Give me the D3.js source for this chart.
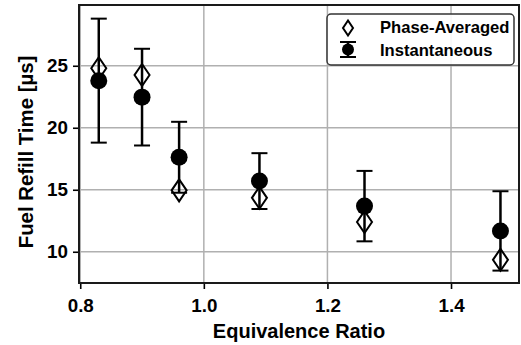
<!DOCTYPE html>
<html>
<head>
<meta charset="utf-8">
<script src="https://cdn.jsdelivr.net/npm/d3@7"></script>
<style>
  body { margin: 0; background: #fff; }
  svg text { font-family: "Liberation Sans", Arial, sans-serif; font-weight: bold; fill: #000; }
</style>
</head>
<body>
<svg id="chart" width="521" height="345"></svg>
<script>
const ratio = [0.83, 0.90, 0.96, 1.09, 1.26, 1.48];
const phaseAvg = [24.8, 24.25, 14.95, 14.35, 12.4, 9.35];
const instMean = [23.8, 22.47, 17.62, 15.7, 13.68, 11.68];
const instErr = [5.0, 3.9, 2.86, 2.25, 2.84, 3.2];
const xTicks = [0.8, 1.0, 1.2, 1.4];
const yTicks = [10, 15, 20, 25];

const L = 79, R = 519, T = 5, B = 283;

const svg = d3.select("#chart");

const x = d3.scaleLinear().domain([0.798, 1.51]).range([L, R]);
const y = d3.scaleLinear().domain([7.48, 29.9]).range([B, T]);

// grid
const grid = svg.append("g").attr("stroke", "#b0b0b0").attr("stroke-width", 1.5);
grid.selectAll("line.gx").data(xTicks).join("line")
  .attr("x1", d => x(d)).attr("x2", d => x(d)).attr("y1", T).attr("y2", B);
grid.selectAll("line.gy").data(yTicks).join("line")
  .attr("x1", L).attr("x2", R).attr("y1", d => y(d)).attr("y2", d => y(d));

// axes
const xAxis = svg.append("g").attr("transform", "translate(0," + B + ")")
  .call(d3.axisBottom(x).tickValues(xTicks).tickFormat(d3.format(".1f")).tickSize(6).tickPadding(5));
const yAxis = svg.append("g").attr("transform", "translate(" + L + ",0)")
  .call(d3.axisLeft(y).tickValues(yTicks).tickSize(6).tickPadding(5));
[xAxis, yAxis].forEach(a => {
  a.select(".domain").remove();
  a.selectAll(".tick line").attr("stroke", "#000").attr("stroke-width", 1.6);
  a.selectAll(".tick text").style("font-size", "18.8px").attr("fill", "#000");
});
xAxis.selectAll(".tick text").attr("dy", "0.95em");

// frame
svg.append("rect").attr("x", L).attr("y", T).attr("width", R - L).attr("height", B - T)
  .attr("fill", "none").attr("stroke", "#1a1a1a").attr("stroke-width", 2);

const diamond = (hw, hh) => "M0," + (-hh) + "L" + hw + ",0L0," + hh + "L" + (-hw) + ",0Z";

// phase-averaged markers
svg.append("g").selectAll("path").data(ratio).join("path")
  .attr("transform", (d, i) => "translate(" + x(d) + "," + y(phaseAvg[i]) + ")")
  .attr("d", diamond(7.5, 11))
  .attr("fill", "none").attr("stroke", "#000").attr("stroke-width", 2);

// instantaneous with error bars
const eb = svg.append("g").attr("stroke", "#000").attr("stroke-width", 2.5);
ratio.forEach((d, i) => {
  const cx = x(d), lo = y(instMean[i] - instErr[i]), hi = y(instMean[i] + instErr[i]);
  eb.append("line").attr("x1", cx).attr("x2", cx).attr("y1", lo).attr("y2", hi);
  [lo, hi].forEach(v => eb.append("line").attr("x1", cx - 8).attr("x2", cx + 8).attr("y1", v).attr("y2", v).attr("stroke-width", 2));
  svg.append("circle").attr("cx", cx).attr("cy", y(instMean[i])).attr("r", 8.5).attr("fill", "#000");
});

// axis labels
svg.append("text").attr("x", (L + R) / 2).attr("y", 338).attr("text-anchor", "middle")
  .style("font-size", "20px").text("Equivalence Ratio");
svg.append("text").attr("transform", "translate(33," + ((T + B) / 2 + 8) + ") rotate(-90)")
  .attr("text-anchor", "middle").style("font-size", "20.4px").text("Fuel Refill Time [µs]");

// legend
const lg = svg.append("g");
lg.append("rect").attr("x", 327).attr("y", 14).attr("width", 187).attr("height", 51).attr("rx", 4)
  .attr("fill", "#fff").attr("fill-opacity", 0.9).attr("stroke", "#333").attr("stroke-width", 1.5);
lg.append("path").attr("transform", "translate(348,28)").attr("d", diamond(5, 7.5))
  .attr("fill", "none").attr("stroke", "#000").attr("stroke-width", 2);
lg.append("line").attr("x1", 348).attr("x2", 348).attr("y1", 42).attr("y2", 57).attr("stroke", "#000").attr("stroke-width", 2.5);
[42, 57].forEach(v => lg.append("line").attr("x1", 340).attr("x2", 356).attr("y1", v).attr("y2", v)
  .attr("stroke", "#000").attr("stroke-width", 2));
lg.append("circle").attr("cx", 348).attr("cy", 49.5).attr("r", 6).attr("fill", "#000");
lg.append("text").attr("x", 380).attr("y", 32.5).style("font-size", "16.6px").text("Phase-Averaged");
lg.append("text").attr("x", 380).attr("y", 55.5).style("font-size", "16.6px").text("Instantaneous");
</script>
</body>
</html>
